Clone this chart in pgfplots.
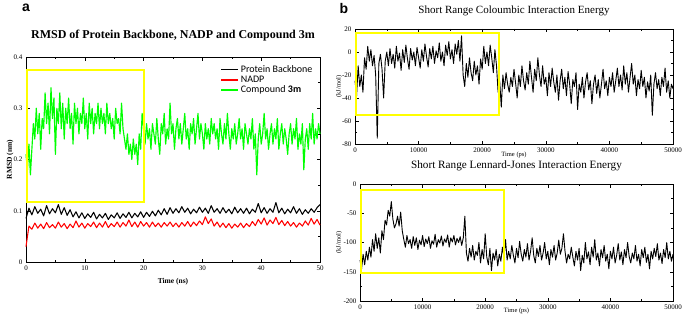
\documentclass[border=0pt]{standalone}
\usepackage{pgfplots}
\pgfplotsset{compat=1.18}
\usepackage{fontspec}
\setmainfont{Liberation Serif}
\newfontfamily\carlito{Carlito}
\newfontfamily\arialf{Liberation Sans}
\definecolor{ygreen}{RGB}{0,255,0}
\definecolor{yyellow}{RGB}{255,255,0}
\pgfplotsset{
  common/.style={
    scale only axis, anchor=south west,
    tick align=inside, axis line style={line width=0.6pt},
    major tick length=3.5pt, minor tick length=2pt,
    every tick/.style={black,line width=0.5pt},
    ticklabel style={font=\fontsize{7}{8}\selectfont},
    /pgf/number format/assume math mode=true,
    /pgf/number format/1000 sep={},
    scaled ticks=false, clip=false,
  }
}
\begin{document}
\begin{tikzpicture}[x=1pt,y=1pt]
\path[use as bounding box] (0,0) rectangle (685,317);
% ---------------- panel a ----------------
\begin{axis}[common,
  at={(26pt,55pt)}, width=294pt, height=205pt,
  xmin=0, xmax=50, ymin=0, ymax=0.4,
  xtick={0,10,...,50}, minor x tick num=1,
  ytick={0,0.1,0.2,0.3,0.4}, minor y tick num=1,
  yticklabel style={/pgf/number format/fixed},
  title={\bfseries RMSD of Protein Backbone, NADP and Compound 3m},
  title style={at={(axis description cs:0.5,1)}, anchor=center, yshift=15pt, font=\fontsize{12}{14}\selectfont},
  xlabel={\bfseries Time (ns)},
  xlabel style={at={(axis description cs:0.5,0)}, anchor=center, yshift=-20pt, font=\fontsize{7.5}{9}\selectfont},
  ylabel={\bfseries RMSD (nm)},
  ylabel style={at={(axis description cs:-0.054,0.5)}, anchor=center, font=\fontsize{7.5}{9}\selectfont},
  legend style={draw=none, fill=none, at={(axis description cs:0.985,0.975)}, anchor=north east,
    font=\carlito\fontsize{10}{11}\selectfont, row sep=-2pt, inner sep=1pt},
  legend cell align=left,
  legend image code/.code={\draw[#1, line width=1.6pt] (0pt,0pt) -- (17pt,0pt);},
]
\addlegendimage{black}
\addlegendentry{Protein Backbone}
\addlegendimage{red}
\addlegendentry{NADP}
\addlegendimage{ygreen}
\addlegendentry{Compound \textbf{3m}}
% Protein backbone
\addplot[black, line width=1.05pt, line join=round, forget plot] coordinates {
(0,0.085)(0.5,0.105)(1,0.092)(1.5,0.108)(2,0.095)(2.5,0.103)(3,0.090)(3.5,0.110)(4,0.094)(4.5,0.104)
(5,0.096)(5.5,0.112)(6,0.093)(6.5,0.106)(7,0.091)(7.5,0.102)(8,0.088)(8.5,0.098)(9,0.086)(9.5,0.096)
(10,0.085)(10.5,0.094)(11,0.087)(11.5,0.097)(12,0.084)(12.5,0.093)(13,0.086)(13.5,0.095)(14,0.083)(14.5,0.092)
(15,0.086)(15.5,0.096)(16,0.085)(16.5,0.094)(17,0.087)(17.5,0.097)(18,0.086)(18.5,0.095)(19,0.088)(19.5,0.098)
(20,0.087)(20.5,0.097)(21,0.089)(21.5,0.099)(22,0.090)(22.5,0.101)(23,0.092)(23.5,0.104)(24,0.093)(24.5,0.106)
(25,0.095)(25.5,0.104)(26,0.096)(26.5,0.108)(27,0.097)(27.5,0.105)(28,0.094)(28.5,0.103)(29,0.096)(29.5,0.107)
(30,0.097)(30.5,0.105)(31,0.095)(31.5,0.110)(32,0.097)(32.5,0.104)(33,0.095)(33.5,0.106)(34,0.096)(34.5,0.103)
(35,0.094)(35.5,0.107)(36,0.096)(36.5,0.104)(37,0.095)(37.5,0.105)(38,0.094)(38.5,0.103)(39,0.097)(39.5,0.114)
(40,0.096)(40.5,0.106)(41,0.095)(41.5,0.104)(42,0.097)(42.5,0.116)(43,0.096)(43.5,0.105)(44,0.094)(44.5,0.103)
(45,0.096)(45.5,0.108)(46,0.095)(46.5,0.104)(47,0.093)(47.5,0.102)(48,0.095)(48.5,0.104)(49,0.097)(49.5,0.106)(50,0.112)};
% NADP
\addplot[red, line width=1.05pt, line join=round, forget plot] coordinates {
(0,0.030)(0.5,0.070)(1,0.064)(1.5,0.076)(2,0.066)(2.5,0.074)(3,0.065)(3.5,0.077)(4,0.067)(4.5,0.073)
(5,0.066)(5.5,0.078)(6,0.068)(6.5,0.075)(7,0.065)(7.5,0.074)(8,0.067)(8.5,0.080)(9,0.068)(9.5,0.076)
(10,0.066)(10.5,0.075)(11,0.069)(11.5,0.078)(12,0.067)(12.5,0.076)(13,0.068)(13.5,0.079)(14,0.067)(14.5,0.075)
(15,0.069)(15.5,0.078)(16,0.068)(16.5,0.077)(17,0.070)(17.5,0.082)(18,0.069)(18.5,0.078)(19,0.068)(19.5,0.079)
(20,0.070)(20.5,0.077)(21,0.068)(21.5,0.078)(22,0.069)(22.5,0.076)(23,0.068)(23.5,0.077)(24,0.070)(24.5,0.078)
(25,0.069)(25.5,0.076)(26,0.068)(26.5,0.077)(27,0.070)(27.5,0.079)(28,0.069)(28.5,0.078)(29,0.071)(29.5,0.080)
(30,0.073)(30.5,0.088)(31,0.075)(31.5,0.084)(32,0.070)(32.5,0.078)(33,0.068)(33.5,0.076)(34,0.067)(34.5,0.075)
(35,0.066)(35.5,0.074)(36,0.068)(36.5,0.076)(37,0.067)(37.5,0.075)(38,0.069)(38.5,0.079)(39,0.071)(39.5,0.083)
(40,0.074)(40.5,0.086)(41,0.072)(41.5,0.082)(42,0.075)(42.5,0.087)(43,0.073)(43.5,0.081)(44,0.071)(44.5,0.079)
(45,0.070)(45.5,0.077)(46,0.068)(46.5,0.076)(47,0.070)(47.5,0.080)(48,0.072)(48.5,0.085)(49,0.074)(49.5,0.083)(50,0.072)};
% Compound 3m
\addplot[ygreen, line width=1.15pt, line join=round, forget plot] coordinates {
(0,0.21)(0.25,0.18)(0.5,0.23)(0.75,0.17)(1,0.22)(1.25,0.27)(1.5,0.24)(1.75,0.30)(2,0.25)(2.25,0.29)
(2.5,0.22)(2.75,0.28)(3,0.26)(3.25,0.33)(3.5,0.27)(3.75,0.31)(4,0.25)(4.25,0.34)(4.5,0.28)(4.75,0.32)
(5,0.21)(5.25,0.30)(5.5,0.27)(5.75,0.33)(6,0.26)(6.25,0.31)(6.5,0.24)(6.75,0.30)(7,0.27)(7.25,0.32)
(7.5,0.26)(7.75,0.29)(8,0.23)(8.25,0.31)(8.5,0.27)(8.75,0.30)(9,0.25)(9.25,0.29)(9.5,0.27)(9.75,0.32)
(10,0.26)(10.25,0.29)(10.5,0.24)(10.75,0.31)(11,0.27)(11.25,0.30)(11.5,0.25)(11.75,0.29)(12,0.27)(12.25,0.31)
(12.5,0.26)(12.75,0.30)(13,0.27)(13.25,0.29)(13.5,0.25)(13.75,0.31)(14,0.27)(14.25,0.29)(14.5,0.26)(14.75,0.28)
(15,0.24)(15.25,0.30)(15.5,0.27)(15.75,0.28)(16,0.25)(16.25,0.31)(16.5,0.26)(16.75,0.24)(17,0.22)(17.25,0.25)
(17.5,0.21)(17.75,0.23)(18,0.20)(18.25,0.24)(18.5,0.21)(18.75,0.23)(19,0.19)(19.25,0.25)(19.5,0.22)(19.75,0.29)
(20,0.26)(20.25,0.23)(20.5,0.27)(20.75,0.24)(21,0.26)(21.25,0.22)(21.5,0.27)(21.75,0.25)(22,0.23)(22.25,0.28)
(22.5,0.24)(22.75,0.21)(23,0.27)(23.25,0.25)(23.5,0.29)(23.75,0.23)(24,0.26)(24.25,0.24)(24.5,0.31)(24.75,0.25)
(25,0.27)(25.25,0.22)(25.5,0.26)(25.75,0.28)(26,0.24)(26.25,0.27)(26.5,0.23)(26.75,0.26)(27,0.29)(27.25,0.24)
(27.5,0.26)(27.75,0.22)(28,0.27)(28.25,0.25)(28.5,0.28)(28.75,0.23)(29,0.26)(29.25,0.29)(29.5,0.24)(29.75,0.27)
(30,0.25)(30.25,0.22)(30.5,0.27)(30.75,0.24)(31,0.26)(31.25,0.23)(31.5,0.28)(31.75,0.25)(32,0.27)(32.25,0.24)
(32.5,0.26)(32.75,0.22)(33,0.28)(33.25,0.25)(33.5,0.23)(33.75,0.27)(34,0.24)(34.25,0.29)(34.5,0.25)(34.75,0.22)
(35,0.26)(35.25,0.24)(35.5,0.27)(35.75,0.23)(36,0.25)(36.25,0.28)(36.5,0.24)(36.75,0.26)(37,0.22)(37.25,0.27)
(37.5,0.25)(37.75,0.23)(38,0.26)(38.25,0.24)(38.5,0.28)(38.75,0.22)(39,0.25)(39.25,0.17)(39.5,0.24)(39.75,0.27)
(40,0.23)(40.25,0.25)(40.5,0.29)(40.75,0.24)(41,0.26)(41.25,0.22)(41.5,0.25)(41.75,0.27)(42,0.23)(42.25,0.26)
(42.5,0.24)(42.75,0.28)(43,0.22)(43.25,0.25)(43.5,0.27)(43.75,0.23)(44,0.26)(44.25,0.24)(44.5,0.21)(44.75,0.25)
(45,0.27)(45.25,0.23)(45.5,0.26)(45.75,0.24)(46,0.28)(46.25,0.22)(46.5,0.25)(46.75,0.23)(47,0.27)(47.25,0.18)
(47.5,0.24)(47.75,0.26)(48,0.22)(48.25,0.27)(48.5,0.24)(48.75,0.29)(49,0.23)(49.25,0.26)(49.5,0.24)(49.75,0.27)(50,0.25)};
\draw[yyellow, line width=2pt] (axis cs:0.15,0.3745) rectangle (axis cs:20,0.118);
\end{axis}
% ---------------- panel b top ----------------
\begin{axis}[common,
  at={(355pt,173pt)}, width=318pt, height=115pt,
  xmin=0, xmax=50000, ymin=-80, ymax=20,
  xtick={0,10000,...,50000}, minor x tick num=1,
  ytick={-80,-60,...,20}, minor y tick num=1,
  title={Short Range Coloumbic Interaction Energy},
  title style={at={(axis description cs:0.5,1)}, anchor=center, yshift=12pt, font=\fontsize{11}{12}\selectfont},
  xlabel={Time (ps)},
  xlabel style={at={(axis description cs:0.5,0)}, anchor=center, yshift=-11pt, font=\fontsize{6.5}{8}\selectfont},
  ylabel={(kJ/mol)},
  ylabel style={at={(axis description cs:-0.05,0.5)}, anchor=center, font=\fontsize{6.5}{8}\selectfont},
]
\addplot[black, line width=0.9pt, line join=round] coordinates {
(0,-25)(250,-38)(500,-12)(750,-30)(1000,-20)(1250,-35)(1500,-5)(1750,-15)(2000,5)(2250,-8)
(2500,2)(2750,-12)(3000,-3)(3250,-20)(3500,-75)(3750,-10)(4000,-2)(4250,-15)(4500,-40)(4750,-8)
(5000,0)(5250,-12)(5500,3)(5750,-10)(6000,-2)(6250,-14)(6500,5)(6750,-8)(7000,-1)(7250,-16)
(7500,2)(7750,-9)(8000,6)(8250,-6)(8500,-15)(8750,3)(9000,-7)(9250,0)(9500,-12)(9750,4)
(10000,-5)(10250,-14)(10500,2)(10750,-8)(11000,7)(11250,-4)(11500,-13)(11750,3)(12000,-6)(12250,5)
(12500,-10)(12750,1)(13000,-5)(13250,8)(13500,-8)(13750,0)(14000,-12)(14250,6)(14500,-3)(14750,9)
(15000,-6)(15250,2)(15500,-10)(15750,7)(16000,-2)(16250,10)(16500,-8)(16750,14)(17000,-20)(17250,-30)
(17500,-10)(17750,-22)(18000,-5)(18250,-18)(18500,-25)(18750,-8)(19000,-20)(19250,-12)(19500,-28)(19750,-6)
(20000,-15)(20250,5)(20500,-10)(20750,0)(21000,-12)(21250,6)(21500,-5)(21750,-18)(22000,2)(22250,-12)
(22500,-35)(22750,-25)(23000,-48)(23250,-20)(23500,-32)(23750,-18)(24000,-28)(24250,-35)(24500,-22)(24750,-30)
(25000,-15)(25250,-27)(25500,-40)(25750,-20)(26000,-30)(26250,-12)(26500,-25)(26750,-33)(27000,-18)(27250,-28)
(27500,-8)(27750,-22)(28000,-35)(28250,-15)(28500,-25)(28750,-5)(29000,-20)(29250,-30)(29500,-12)(29750,-28)
(30000,-22)(30250,-38)(30500,-18)(30750,-30)(31000,-14)(31250,-26)(31500,-35)(31750,-20)(32000,-42)(32250,-25)
(32500,-15)(32750,-32)(33000,-22)(33250,-38)(33500,-17)(33750,-28)(34000,-45)(34250,-24)(34500,-30)(34750,-18)
(35000,-50)(35250,-28)(35500,-35)(35750,-22)(36000,-40)(36250,-26)(36500,-18)(36750,-33)(37000,-25)(37250,-45)
(37500,-28)(37750,-20)(38000,-36)(38250,-24)(38500,-40)(38750,-28)(39000,-15)(39250,-32)(39500,-25)(39750,-38)
(40000,-22)(40250,-30)(40500,-18)(40750,-35)(41000,-25)(41250,-14)(41500,-30)(41750,-20)(42000,-33)(42250,-12)
(42500,-28)(42750,-18)(43000,-35)(43250,-22)(43500,-10)(43750,-28)(44000,-20)(44250,-38)(44500,-24)(44750,-32)
(45000,-16)(45250,-30)(45500,-22)(45750,-40)(46000,-26)(46250,-34)(46500,-20)(46750,-55)(47000,-28)(47250,-18)
(47500,-32)(47750,-24)(48000,-38)(48250,-22)(48500,-30)(48750,-14)(49000,-35)(49250,-25)(49500,-40)(49750,-28)(50000,-32)};
\draw[yyellow, line width=2pt] (axis cs:150,16.8) rectangle (axis cs:22640,-54.8);
\end{axis}
% ---------------- panel b bottom ----------------
\begin{axis}[common,
  at={(360pt,16pt)}, width=313pt, height=117pt,
  xmin=0, xmax=50000, ymin=-200, ymax=0,
  xtick={0,10000,...,50000}, minor x tick num=1,
  ytick={-200,-150,...,0}, minor y tick num=1,
  title={Short Range Lennard-Jones Interaction Energy},
  title style={at={(axis description cs:0.5,1)}, anchor=center, yshift=12pt, font=\fontsize{11.2}{12}\selectfont},
  xlabel={Time (ps)},
  xlabel style={at={(axis description cs:0.5,0)}, anchor=center, yshift=-10pt, font=\fontsize{6.5}{8}\selectfont},
  ylabel={(kJ/mol)},
  ylabel style={at={(axis description cs:-0.067,0.5)}, anchor=center, font=\fontsize{6.5}{8}\selectfont},
]
\addplot[black, line width=0.9pt, line join=round] coordinates {
(0,-130)(250,-145)(500,-120)(750,-138)(1000,-115)(1250,-130)(1500,-108)(1750,-125)(2000,-95)(2250,-115)
(2500,-85)(2750,-110)(3000,-92)(3250,-118)(3500,-80)(3750,-95)(4000,-62)(4250,-70)(4500,-45)(4750,-55)
(5000,-30)(5250,-60)(5500,-75)(5750,-68)(6000,-55)(6250,-72)(6500,-48)(6750,-80)(7000,-95)(7250,-108)
(7500,-88)(7750,-102)(8000,-95)(8250,-110)(8500,-90)(8750,-105)(9000,-92)(9250,-112)(9500,-96)(9750,-104)
(10000,-88)(10250,-107)(10500,-94)(10750,-102)(11000,-90)(11250,-110)(11500,-97)(11750,-103)(12000,-86)(12250,-108)
(12500,-95)(12750,-101)(13000,-89)(13250,-106)(13500,-94)(13750,-100)(14000,-87)(14250,-108)(14500,-92)(14750,-99)
(15000,-88)(15250,-104)(15500,-93)(15750,-100)(16000,-90)(16250,-105)(16500,-92)(16750,-55)(17000,-118)(17250,-132)
(17500,-110)(17750,-125)(18000,-105)(18250,-130)(18500,-115)(18750,-122)(19000,-100)(19250,-135)(19500,-112)(19750,-128)
(20000,-85)(20250,-125)(20500,-138)(20750,-110)(21000,-148)(21250,-118)(21500,-130)(21750,-112)(22000,-140)(22250,-120)
(22500,-132)(22750,-108)(23000,-125)(23250,-95)(23500,-130)(23750,-115)(24000,-128)(24250,-105)(24500,-122)(24750,-135)
(25000,-110)(25250,-126)(25500,-98)(25750,-120)(26000,-132)(26250,-112)(26500,-125)(26750,-102)(27000,-130)(27250,-115)
(27500,-92)(27750,-122)(28000,-135)(28250,-110)(28500,-124)(28750,-105)(29000,-130)(29250,-118)(29500,-100)(29750,-128)
(30000,-115)(30250,-138)(30500,-112)(30750,-125)(31000,-105)(31250,-130)(31500,-118)(31750,-96)(32000,-120)(32250,-110)
(32500,-85)(32750,-115)(33000,-135)(33250,-120)(33500,-128)(33750,-108)(34000,-125)(34250,-140)(34500,-115)(34750,-130)
(35000,-110)(35250,-148)(35500,-122)(35750,-135)(36000,-100)(36250,-128)(36500,-116)(36750,-138)(37000,-108)(37250,-125)
(37500,-95)(37750,-130)(38000,-118)(38250,-140)(38500,-112)(38750,-126)(39000,-105)(39250,-132)(39500,-120)(39750,-145)
(40000,-115)(40250,-128)(40500,-108)(40750,-135)(41000,-122)(41250,-102)(41500,-130)(41750,-116)(42000,-138)(42250,-112)
(42500,-126)(42750,-100)(43000,-124)(43250,-135)(43500,-118)(43750,-128)(44000,-105)(44250,-132)(44500,-120)(44750,-140)
(45000,-112)(45250,-126)(45500,-108)(45750,-134)(46000,-120)(46250,-145)(46500,-115)(46750,-128)(47000,-110)(47250,-124)
(47500,-102)(47750,-130)(48000,-118)(48250,-136)(48500,-112)(48750,-126)(49000,-100)(49250,-128)(49500,-115)(49750,-132)(50000,-120)};
\draw[yyellow, line width=2pt] (axis cs:200,-11) rectangle (axis cs:23050,-151.5);
\end{axis}
% panel letters
\node[font=\arialf\bfseries\fontsize{14}{16}\selectfont, anchor=center] at (26,309) {a};
\node[font=\arialf\bfseries\fontsize{14}{16}\selectfont, anchor=center] at (344,309) {b};
\end{tikzpicture}
\end{document}
